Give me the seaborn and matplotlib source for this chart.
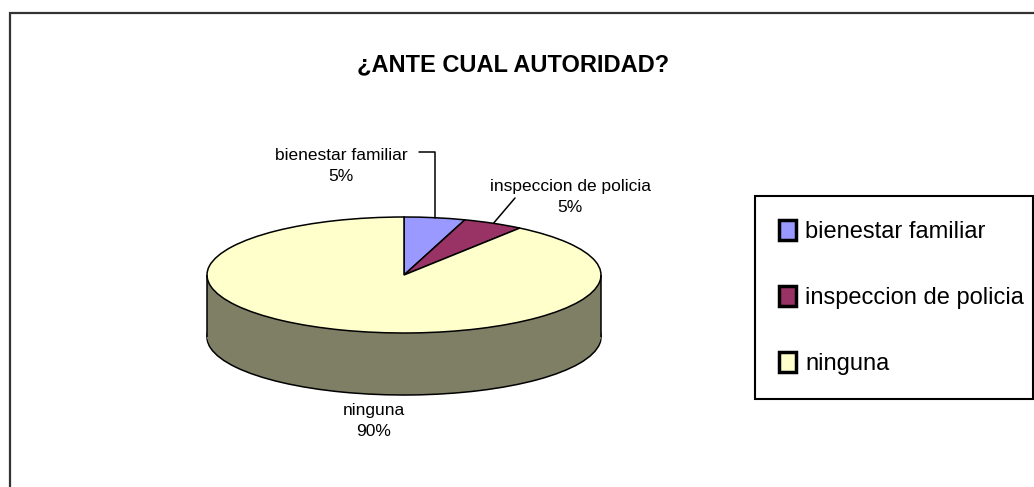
import numpy as np
import matplotlib
matplotlib.use("Agg")
import matplotlib.pyplot as plt
import matplotlib.patches as mpatches
import seaborn as sns

# ---------------- data ----------------
categories = ["bienestar familiar", "inspeccion de policia", "ninguna"]
values = [5, 5, 90]
title = "¿ANTE CUAL AUTORIDAD?"

# ---------------- style ----------------
top_colors = ["#9999ff", "#993366", "#ffffcc"]
side_colors = ["#4d4d80", "#4d1a33", "#7f7f66"]

sns.set_theme(style="white")
plt.rcParams['font.family'] = ['Liberation Sans', 'DejaVu Sans']
label_family = ['Liberation Sans Narrow', 'Liberation Sans', 'DejaVu Sans']

W, H = 1034, 487
fig = plt.figure(figsize=(W / 100, H / 100), dpi=100)
fig.patch.set_facecolor("white")
ax = fig.add_axes([0, 0, 1, 1])

# pixel geometry of the 3D pie
cx_px, cy_px, rx_px, ry_px, depth_px = 404, 275, 197, 58, 62


def X(px):
    return (px - cx_px) / rx_px


def Y(py):
    return (cy_px - py) / ry_px


d = depth_px / ry_px
pie_kw = dict(startangle=90, counterclock=False, radius=1)

# bottom of the cylinder
ax.pie(values, colors=side_colors, center=(0, -d),
       wedgeprops=dict(edgecolor="black", linewidth=1.1), **pie_kw)
# side walls (stacked layers)
for t in np.linspace(d - 0.035, 0.0, 70):
    ax.pie(values, colors=side_colors, center=(0, -t),
           wedgeprops=dict(edgecolor="none", linewidth=0), **pie_kw)
ax.vlines([-1, 1], -d, 0, colors="black", linewidth=1.1)
# top face
wedges, _ = ax.pie(values, colors=top_colors, center=(0, 0),
                   wedgeprops=dict(edgecolor="black", linewidth=1.1), **pie_kw)

ax.set_aspect("auto")
ax.set_xlim(X(0), X(W))
ax.set_ylim(Y(H), Y(0))
ax.axis("off")

# ---------------- data labels ----------------
total = sum(values)
pcts = [f"{v / total * 100:.0f}%" for v in values]
mids = []
cum = 0
for v in values:
    mids.append(np.deg2rad(90 - 360 * (cum + v / 2) / total))
    cum += v

lab_kw = dict(ha="center", va="center", fontsize=12.5, family=label_family,
              color="black", linespacing=1.55)

# bienestar familiar
ax.text(X(341), Y(166), f"{categories[0]}\n{pcts[0]}", **lab_kw)
ex, ey = np.cos(mids[0]), np.sin(mids[0])
ax.plot([X(419), ex, ex], [Y(152), Y(152), ey], color="black", lw=1.1)

# inspeccion de policia
ax.text(X(570), Y(197), f"{categories[1]}\n{pcts[1]}", **lab_kw)
ex, ey = np.cos(mids[1]), np.sin(mids[1])
ax.plot([ex, X(515)], [ey, Y(198)], color="black", lw=1.1)

# ninguna
ax.text(X(374), Y(421), f"{categories[2]}\n{pcts[2]}", **lab_kw)

# ---------------- title ----------------
fig.text(513 / W, 1 - 65 / H, title, ha="center", va="center",
         fontsize=17, fontweight="bold", color="black")

# ---------------- legend ----------------
handles = [mpatches.Patch(facecolor=c, edgecolor="black", linewidth=2.5)
           for c in top_colors]
leg = fig.legend(handles, categories, loc="upper left",
                 bbox_to_anchor=(755 / W, 1 - 196 / H, 278 / W, 0),
                 bbox_transform=fig.transFigure, mode="expand",
                 borderaxespad=0, fontsize=17, frameon=True, fancybox=False,
                 borderpad=1.02, labelspacing=1.82,
                 handlelength=0.7, handleheight=0.9, handletextpad=0.4)
for txt in leg.get_texts():
    txt.set_color("black")
fr = leg.get_frame()
fr.set_edgecolor("black")
fr.set_linewidth(1.5)
fr.set_facecolor("white")
fr.set_alpha(1)

# ---------------- outer chart border ----------------
fig.add_artist(mpatches.Rectangle((10 / W, -0.05), 1.05, (1 - 13 / H) + 0.05,
                                  transform=fig.transFigure, fill=False,
                                  edgecolor="#333333", linewidth=1.6))

fig.savefig("out.png", dpi=100, facecolor="white")
